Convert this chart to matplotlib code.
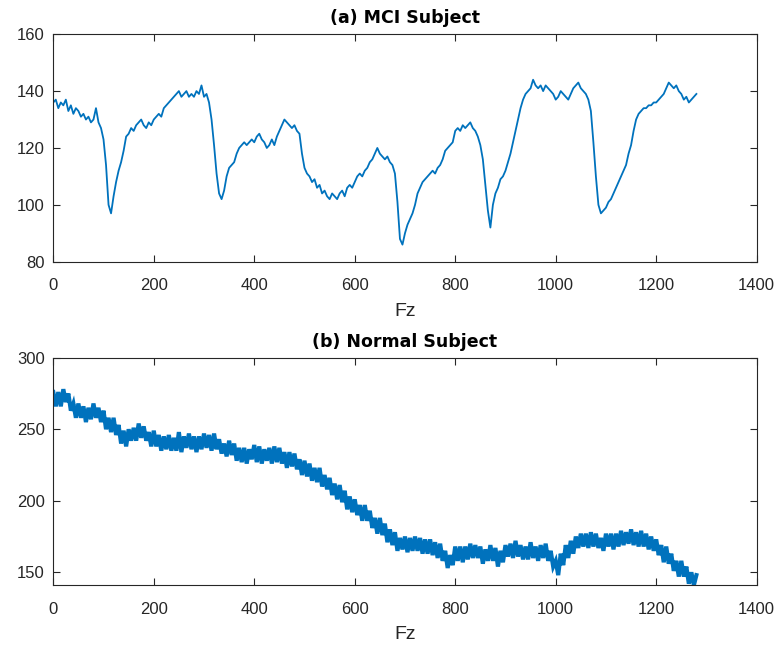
import numpy as np
import matplotlib
matplotlib.use('Agg')
import matplotlib.pyplot as plt

plt.rcParams['font.family'] = ['Liberation Sans', 'DejaVu Sans']

# samples every 5 points (0 .. 1280)
step = 5

mci = [
    136, 137, 134, 136, 135, 137, 133, 135, 132, 134,
    133, 131, 132, 130, 131, 129, 130, 134, 129, 127,
    123, 114, 100, 97, 103, 108, 112, 115, 119, 124,
    125, 127, 126, 128, 129, 130, 128, 127, 129, 128,
    130, 131, 132, 131, 134, 135, 136, 137, 138, 139,
    140, 138, 139, 140, 138, 139, 138, 140, 139, 142,
    138, 139, 136, 130, 121, 111, 104, 102, 105, 110,
    113, 114, 115, 118, 120, 121, 122, 121, 122, 123,
    122, 124, 125, 123, 122, 120, 121, 123, 121, 124,
    126, 128, 130, 129, 128, 127, 128, 126, 125, 118,
    113, 111, 110, 108, 109, 106, 107, 104, 105, 103,
    102, 104, 103, 102, 104, 105, 103, 106, 107, 106,
    108, 110, 111, 110, 112, 113, 115, 116, 118, 120,
    118, 117, 116, 117, 115, 114, 111, 101, 88, 86,
    90, 93, 95, 97, 100, 104, 106, 108, 109, 110,
    111, 112, 111, 113, 114, 116, 119, 120, 121, 122,
    126, 127, 126, 128, 127, 128, 129, 127, 126, 124,
    121, 116, 107, 98, 92, 100, 104, 106, 109, 110,
    112, 115, 118, 122, 126, 130, 134, 137, 139, 140,
    141, 144, 142, 141, 142, 140, 142, 141, 140, 139,
    137, 138, 140, 139, 138, 137, 139, 141, 142, 143,
    141, 140, 139, 137, 133, 122, 110, 100, 97, 98,
    99, 101, 102, 104, 106, 108, 110, 112, 114, 118,
    121, 126, 130, 132, 133, 134, 134, 135, 135, 136,
    136, 137, 138, 139, 141, 143, 142, 141, 142, 140,
    139, 137, 138, 136, 137, 138, 139,
]

normal = [
    276, 266, 276, 266, 278, 269, 275, 263, 268, 258,
    268, 258, 266, 255, 265, 257, 268, 258, 265, 255,
    263, 250, 258, 248, 258, 246, 253, 240, 249, 238,
    250, 242, 251, 242, 254, 244, 252, 242, 248, 238,
    249, 238, 246, 235, 245, 236, 246, 235, 244, 235,
    248, 234, 245, 237, 247, 236, 245, 234, 245, 236,
    247, 237, 246, 235, 247, 236, 243, 233, 240, 231,
    242, 232, 240, 228, 237, 227, 237, 226, 236, 229,
    239, 227, 238, 226, 236, 228, 237, 226, 238, 227,
    237, 226, 234, 223, 234, 224, 233, 222, 229, 218,
    228, 217, 226, 214, 223, 213, 223, 210, 218, 208,
    216, 204, 212, 201, 211, 199, 207, 194, 203, 192,
    201, 190, 197, 186, 197, 186, 193, 181, 188, 177,
    188, 176, 184, 171, 180, 169, 178, 165, 174, 166,
    175, 164, 174, 165, 175, 165, 174, 163, 173, 163,
    173, 162, 171, 160, 170, 158, 165, 153, 162, 155,
    168, 158, 168, 157, 168, 159, 170, 160, 169, 160,
    168, 156, 166, 158, 169, 158, 167, 154, 165, 157,
    169, 161, 170, 160, 172, 161, 169, 159, 168, 159,
    171, 160, 168, 158, 169, 160, 170, 158, 165, 154,
    158, 148, 163, 155, 169, 160, 172, 163, 175, 167,
    177, 168, 177, 167, 178, 168, 177, 167, 174, 165,
    177, 168, 177, 166, 177, 168, 179, 169, 178, 170,
    180, 169, 178, 168, 179, 168, 177, 166, 175, 165,
    173, 162, 169, 157, 168, 156, 163, 151, 158, 147,
    158, 147, 154, 142, 150, 141, 148,
]

titles = ['(a) MCI Subject', '(b) Normal Subject']
xticks = [0, 200, 400, 600, 800, 1000, 1200, 1400]

line_color = '#0072BD'
axis_color = '#262626'

fig = plt.figure(figsize=(7.8, 6.45), dpi=100)
ax1 = fig.add_axes([0.0683, 0.5943, 0.9018, 0.3526])
ax2 = fig.add_axes([0.0683, 0.0930, 0.9018, 0.3524])

x1 = np.arange(len(mci)) * step
x2 = np.arange(len(normal)) * step
ax1.plot(x1, mci, color=line_color, lw=1.3)
ax2.plot(x2, normal, color=line_color, lw=3.0, solid_joinstyle='miter')

ax1.set_ylim(80, 160)
ax1.set_yticks([80, 100, 120, 140, 160])
ax2.set_ylim(141.1, 300)
ax2.set_yticks([150, 200, 250, 300])

for ax, t in zip([ax1, ax2], titles):
    ax.set_xlim(0, 1400)
    ax.set_xticks(xticks)
    ax.set_title(t, fontsize=12.5, fontweight='bold', color='black', pad=8,
                 family=['DejaVu Sans'])
    ax.set_xlabel('Fz', fontsize=14, color=axis_color, labelpad=7)
    ax.tick_params(direction='in', length=5, width=0.8, colors=axis_color,
                   labelsize=12, top=True, right=True)
    ax.tick_params(axis='x', pad=12)
    ax.tick_params(axis='y', pad=6)
    for s in ax.spines.values():
        s.set_color(axis_color)
        s.set_linewidth(0.8)

plt.savefig('out.png', dpi=100)
